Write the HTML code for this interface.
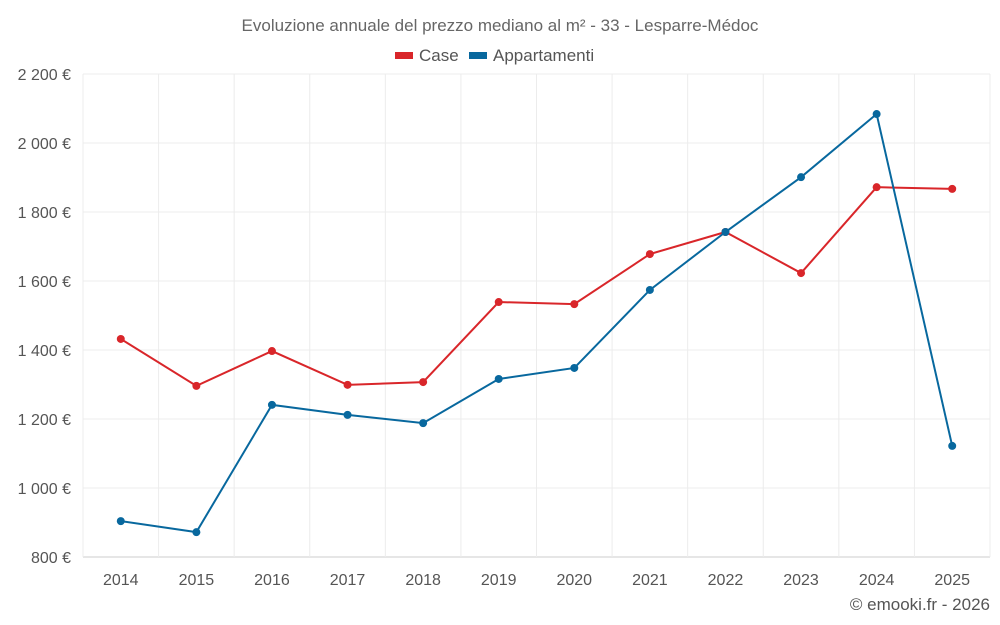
<!DOCTYPE html>
<html><head><meta charset="utf-8"><style>
html,body{margin:0;padding:0;background:#fff;}
svg{display:block;font-family:"Liberation Sans",sans-serif;}
</style></head><body>
<svg id="chart" width="1000" height="625" viewBox="0 0 1000 625">
<text x="500" y="31" text-anchor="middle" font-size="17" fill="#666">Evoluzione annuale del prezzo mediano al m² - 33 - Lesparre-Médoc</text>
<g>
<g><rect x="395" y="52" width="18" height="7" fill="#d9262a"/><text x="419" y="61" font-size="17" fill="#555">Case</text></g>
<g><rect x="469" y="52" width="18" height="7" fill="#08689e"/><text x="493" y="61" font-size="17" fill="#555">Appartamenti</text></g>
</g>
<g id="grid"></g>
<g id="yaxis"></g>
<g id="xaxis"></g>
<g id="series"></g>
<text x="990" y="610" text-anchor="end" font-size="17" fill="#555">© emooki.fr - 2026</text>
</svg>
<script>
const years = ["2014","2015","2016","2017","2018","2019","2020","2021","2022","2023","2024","2025"];
const caseValues = [1432,1296,1397,1299,1307,1539,1533,1678,1742,1623,1872,1867];
const appValues = [904,872,1241,1212,1188,1316,1348,1574,1742,1901,2084,1122];
const yTicks = [800,1000,1200,1400,1600,1800,2000,2200];
const yTickLabels = ["800 €","1 000 €","1 200 €","1 400 €","1 600 €","1 800 €","2 000 €","2 200 €"];

const NS="http://www.w3.org/2000/svg";
const L=83,R=990,T=74,B=557,yMin=800,yMax=2200;
const band=(R-L)/years.length;
function xPos(i){return L+band*(i+0.5);}
function yPos(v){return B-(v-yMin)/(yMax-yMin)*(B-T);}
function mk(tag,attrs,parent){const e=document.createElementNS(NS,tag);for(const k in attrs)e.setAttribute(k,attrs[k]);parent.appendChild(e);return e;}
const grid=document.getElementById('grid'),ya=document.getElementById('yaxis'),xa=document.getElementById('xaxis'),ser=document.getElementById('series');
yTicks.forEach((t,i)=>{
  const y=yPos(t);
  const g=mk('line',{x1:L,x2:R,y1:y,y2:y,stroke:i===0?'#ccc':'#ececec','stroke-width':1},grid);
  
  
  const tx=mk('text',{x:71,y:y+6,'text-anchor':'end','font-size':16,fill:'#555'},ya);
  tx.textContent=yTickLabels[i];
  
  
});
for(let i=0;i<=years.length;i++){
  const x=L+band*i;
  const g=mk('line',{x1:x,x2:x,y1:T,y2:B,stroke:'#ececec','stroke-width':1},grid);
  
  
}
years.forEach((yr,i)=>{
  const tx=mk('text',{x:xPos(i),y:585,'text-anchor':'middle','font-size':16,fill:'#555'},xa);
  tx.textContent=yr;
  
  
});
function drawSeries(vals,color,name){
  const g=mk('g',{},ser);
  
  
  const p=mk('polyline',{points:vals.map((v,i)=>xPos(i)+','+yPos(v)).join(' '),fill:'none',stroke:color,'stroke-width':2},g);
  
  
  vals.forEach((v,i)=>{
    const c=mk('circle',{cx:xPos(i),cy:yPos(v),r:4,fill:color},g);
    
    
  });
}
drawSeries(caseValues,'#d9262a','case');
drawSeries(appValues,'#08689e','appartamenti');
</script>
</body></html>
